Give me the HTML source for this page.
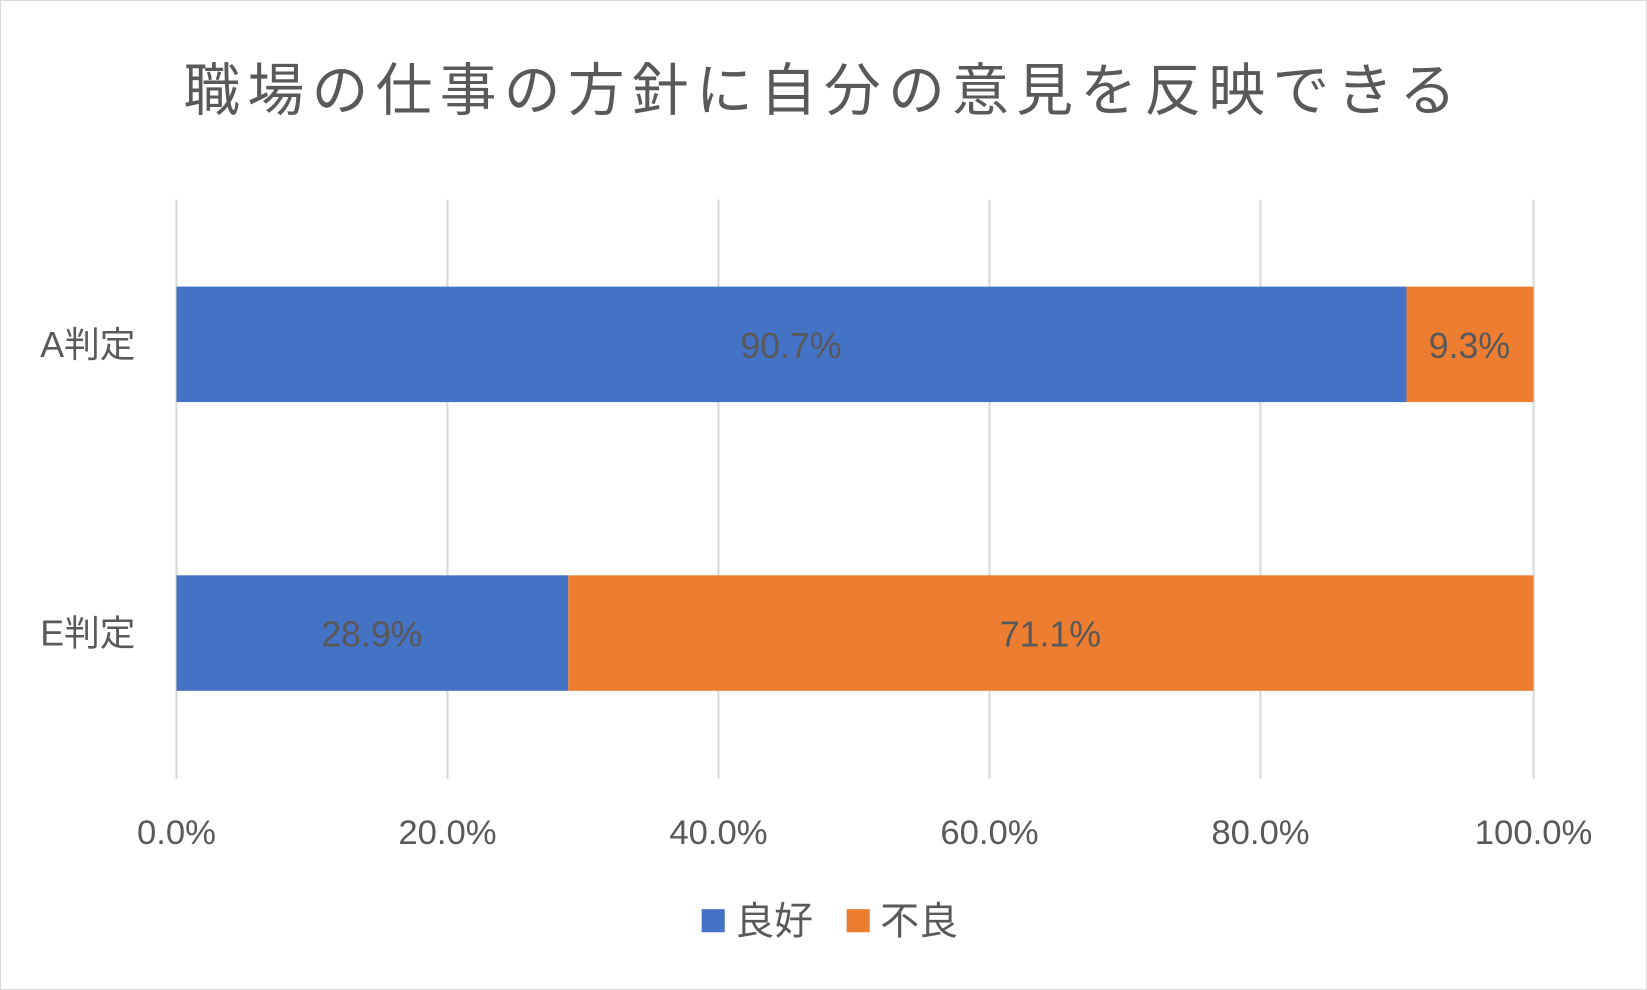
<!DOCTYPE html>
<html><head><meta charset="utf-8"><style>
html,body{margin:0;padding:0;background:#fff;}
svg{display:block;}
text{font-family:"Liberation Sans","Noto Sans CJK JP",sans-serif;fill:#595959;}
</style></head><body>
<svg width="1647" height="990" viewBox="0 0 1568 943" preserveAspectRatio="none" xmlns="http://www.w3.org/2000/svg">
<rect x="0.5" y="0.5" width="1567" height="942" fill="#fff" stroke="#d9d9d9"/>
<text x="784" y="105" text-anchor="middle" font-size="54" letter-spacing="7">職場の仕事の方針に自分の意見を反映できる</text>
<g stroke="#d9d9d9" stroke-width="2">
<line x1="168" y1="190" x2="168" y2="742"/>
<line x1="426" y1="190" x2="426" y2="742"/>
<line x1="684" y1="190" x2="684" y2="742"/>
<line x1="942" y1="190" x2="942" y2="742"/>
<line x1="1200" y1="190" x2="1200" y2="742"/>
<line x1="1460" y1="190" x2="1460" y2="742"/>
</g>
<rect x="168" y="273" width="1171" height="110" fill="#4472c4"/>
<rect x="1339" y="273" width="121" height="110" fill="#ed7d31"/>
<rect x="168" y="548" width="373" height="110" fill="#4472c4"/>
<rect x="541" y="548" width="919" height="110" fill="#ed7d31"/>
<g font-size="34" text-anchor="middle">
<text x="753" y="341">90.7%</text>
<text x="1399" y="341">9.3%</text>
<text x="354" y="616">28.9%</text>
<text x="1000" y="616">71.1%</text>
</g>
<g font-size="34" text-anchor="end">
<text x="129" y="340">A判定</text>
<text x="129" y="615">E判定</text>
</g>
<g font-size="33" text-anchor="middle">
<text x="168" y="804">0.0%</text>
<text x="426" y="804">20.0%</text>
<text x="684" y="804">40.0%</text>
<text x="942" y="804">60.0%</text>
<text x="1200" y="804">80.0%</text>
<text x="1460" y="804">100.0%</text>
</g>
<rect x="668" y="866" width="22" height="22" fill="#4472c4"/>
<text x="700" y="890" font-size="37">良好</text>
<rect x="806" y="866" width="22" height="22" fill="#ed7d31"/>
<text x="838" y="890" font-size="37">不良</text>
</svg>
</body></html>
